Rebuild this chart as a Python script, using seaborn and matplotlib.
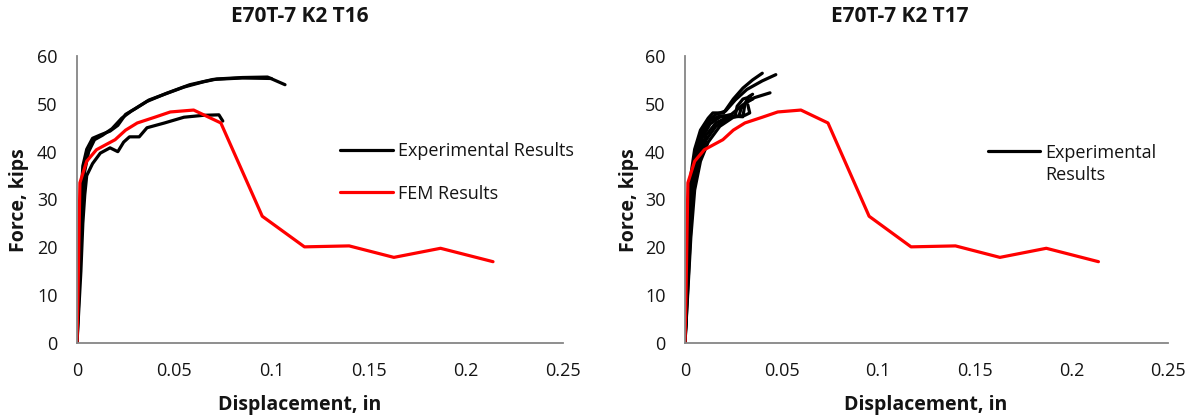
import matplotlib
matplotlib.use("Agg")
import matplotlib.pyplot as plt
from matplotlib.lines import Line2D
import seaborn as sns
import pandas as pd

# ---- data: displacement (in) / force (kips) ----
fem_disp = [0, 0.0005, 0.001, 0.0015, 0.005, 0.010, 0.015, 0.0196, 0.025, 0.031,
            0.040, 0.048, 0.060, 0.074, 0.0953, 0.117, 0.140, 0.163, 0.187, 0.214]
fem_force = [0, 10, 22, 33.5, 38, 40.4, 41.5, 42.5, 44.5, 46,
             47.2, 48.3, 48.7, 46.0, 26.5, 20.1, 20.3, 17.9, 19.8, 17.0]

t16_a_disp = [0, 0.001, 0.002, 0.003, 0.005, 0.008, 0.012, 0.017, 0.021, 0.025, 0.030,
              0.037, 0.045, 0.055, 0.065, 0.072, 0.085, 0.098, 0.107]
t16_a_force = [0, 15, 30, 37, 40.5, 42.8, 43.5, 44.3, 45.5, 47.8, 49,
               50.8, 52, 53.5, 54.6, 55.2, 55.5, 55.6, 54]
t16_b_disp = [0, 0.0015, 0.003, 0.004, 0.006, 0.009, 0.013, 0.018, 0.023, 0.028,
              0.036, 0.046, 0.058, 0.070, 0.085, 0.100]
t16_b_force = [0, 15, 30, 36, 40, 42.5, 43.4, 44.8, 47, 48.5,
               50.5, 52.2, 54, 55.1, 55.4, 55.3]
t16_c_disp = [0, 0.002, 0.003, 0.004, 0.005, 0.008, 0.012, 0.017, 0.021, 0.024,
              0.027, 0.032, 0.036, 0.045, 0.055, 0.065, 0.073, 0.075]
t16_c_force = [0, 15, 25, 31, 35, 37.5, 39.7, 40.8, 40, 42,
               43.1, 43.1, 45, 46, 47.2, 47.6, 47.7, 46.4]

t17_a_disp = [0, 0.001, 0.002, 0.003, 0.005, 0.008, 0.012, 0.0144, 0.020, 0.025,
              0.030, 0.035, 0.040]
t17_a_force = [0, 15, 28, 35, 40.5, 44.5, 47, 48.1, 48.1, 51, 53.3, 55, 56.4]
t17_b_disp = [0, 0.001, 0.002, 0.003, 0.005, 0.008, 0.012, 0.016, 0.021, 0.026,
              0.032, 0.040, 0.047]
t17_b_force = [0, 13, 26, 33, 39, 43.5, 46.5, 47.8, 48.5, 50.8, 53, 54.8, 56.1]
t17_c_disp = [0, 0.001, 0.002, 0.0035, 0.006, 0.009, 0.013, 0.018, 0.024, 0.030,
              0.036, 0.044]
t17_c_force = [0, 12, 24, 33, 39, 43, 45.8, 47.2, 47.8, 49.8, 51.3, 52.3]
t17_d_disp = [0, 0.0012, 0.0025, 0.004, 0.006, 0.009, 0.013, 0.018, 0.025, 0.030,
              0.031, 0.033, 0.035]
t17_d_force = [0, 14, 27, 35, 40, 44, 46.5, 47.5, 47.4, 47.3, 50, 51.5, 52]
t17_e_disp = [0, 0.0012, 0.0025, 0.004, 0.007, 0.011, 0.016, 0.022, 0.026, 0.027,
              0.030, 0.034]
t17_e_force = [0, 12, 24, 33, 39.5, 43.5, 46, 47.2, 47.5, 49.5, 51, 51.5]
t17_f_disp = [0, 0.0015, 0.003, 0.0045, 0.007, 0.011, 0.016, 0.022, 0.028, 0.029,
              0.032, 0.035]
t17_f_force = [0, 12, 24, 32, 38, 42.5, 45.3, 47, 47.5, 49, 50.5, 51]
t17_g_disp = [0, 0.0015, 0.003, 0.005, 0.008, 0.012, 0.018, 0.025, 0.031, 0.0335, 0.0325]
t17_g_force = [0, 11, 22, 32, 38, 42, 45.3, 47.2, 47.6, 48.1, 49.8]

x_ticks = [0, 0.05, 0.1, 0.15, 0.2, 0.25]
x_tick_labels = ["0", "0.05", "0.1", "0.15", "0.2", "0.25"]
y_ticks = [0, 10, 20, 30, 40, 50, 60]

panels = [
    ("E70T-7 K2 T16",
     [(t16_a_disp, t16_a_force), (t16_b_disp, t16_b_force), (t16_c_disp, t16_c_force)]),
    ("E70T-7 K2 T17",
     [(t17_a_disp, t17_a_force), (t17_b_disp, t17_b_force), (t17_c_disp, t17_c_force),
      (t17_d_disp, t17_d_force), (t17_e_disp, t17_e_force), (t17_f_disp, t17_f_force),
      (t17_g_disp, t17_g_force)]),
]

sns.set_theme(style="white")
plt.rcParams["font.family"] = ["Open Sans", "DejaVu Sans"]

fig = plt.figure(figsize=(11.89, 4.17), dpi=100)
axes_rects = [[77 / 1189, 74 / 417, 486 / 1189, 287 / 417],
              [685 / 1189, 74 / 417, 483 / 1189, 287 / 417]]
title_x = [300 / 1189, 900 / 1189]
xlabel_x = [300 / 1189, 926 / 1189]
ylabel_x = [19 / 1189, 629 / 1189]

spine_color = "#868686"
text_color = "#141414"
tick_fs = 13
label_fs = 14
legend_fs = 13

for i, (title, tests) in enumerate(panels):
    ax = fig.add_axes(axes_rects[i])
    for j, (d, f) in enumerate(tests):
        df = pd.DataFrame({"disp": d, "force": f})
        sns.lineplot(data=df, x="disp", y="force", sort=False, estimator=None,
                     color="black", lw=2.3, ax=ax,
                     label="Experimental Results" if j == 0 else None)
    fem = pd.DataFrame({"disp": fem_disp, "force": fem_force})
    sns.lineplot(data=fem, x="disp", y="force", sort=False, estimator=None,
                 color="#ff0000", lw=2.3, ax=ax,
                 label="FEM Results" if i == 0 else None)

    ax.set_xlim(0, 0.25)
    ax.set_ylim(0, 60)
    ax.set_xticks(x_ticks)
    ax.set_xticklabels(x_tick_labels)
    ax.set_yticks(y_ticks)
    ax.tick_params(axis="both", length=0, labelsize=tick_fs, colors=text_color)
    ax.tick_params(axis="x", pad=14)
    ax.tick_params(axis="y", pad=14)
    for s in ["top", "right"]:
        ax.spines[s].set_visible(False)
    for s in ["left", "bottom"]:
        ax.spines[s].set_color(spine_color)
        ax.spines[s].set_linewidth(1.3)
    ax.set_xlabel("")
    ax.set_ylabel("")
    ax.margins(0)

    fig.text(title_x[i], 1 - 16 / 417, title, ha="center", va="center",
             fontsize=15, fontweight="bold", color=text_color)
    fig.text(xlabel_x[i], 1 - 405 / 417, "Displacement, in", ha="center", va="center",
             fontsize=label_fs, fontweight="bold", color=text_color)
    fig.text(ylabel_x[i], 1 - 200 / 417, "Force, kips", rotation=90, ha="center",
             va="center", fontsize=label_fs, fontweight="bold", color=text_color)

    if i == 0:
        ax.legend(loc="upper left", bbox_to_anchor=(0.527, 0.725), frameon=False,
                  fontsize=legend_fs, handlelength=2.9, handletextpad=0.3,
                  labelspacing=1.35, borderaxespad=0, labelcolor=text_color)
    else:
        handles, labels = ax.get_legend_handles_labels()
        blank = Line2D([], [], color="none")
        ax.legend([handles[0], blank], ["Experimental", "Results"], loc="upper left",
                  bbox_to_anchor=(0.612, 0.72), frameon=False,
                  fontsize=legend_fs, handlelength=2.9, handletextpad=0.3,
                  labelspacing=0.22, borderaxespad=0, labelcolor=text_color)

fig.savefig("out.png", dpi=100)
